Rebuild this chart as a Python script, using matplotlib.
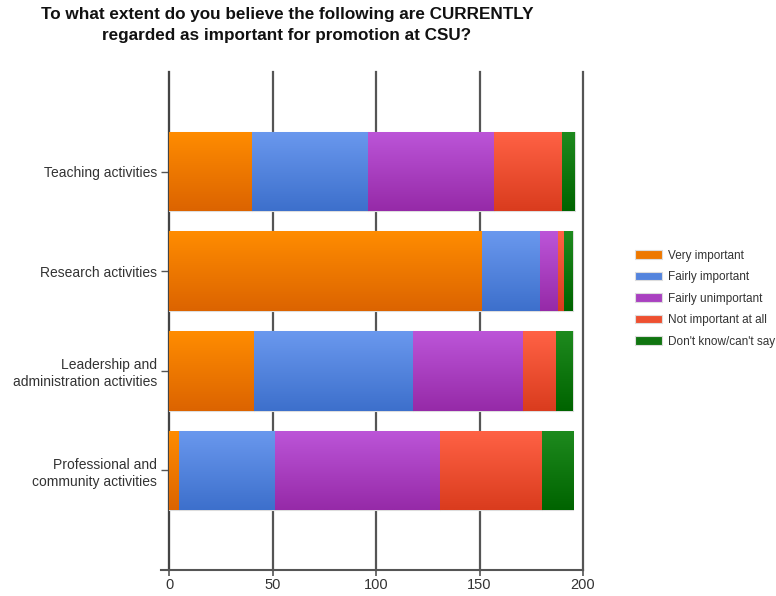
import numpy as np
import matplotlib
matplotlib.use("Agg")
import matplotlib.pyplot as plt
from matplotlib.colors import LinearSegmentedColormap

plt.rcParams['font.family'] = ['Liberation Sans', 'DejaVu Sans']

categories = ["Teaching activities", "Research activities",
              "Leadership and\nadministration activities",
              "Professional and\ncommunity activities"]
series_names = ["Very important", "Fairly important", "Fairly unimportant",
                "Not important at all", "Don't know/can't say"]
very_important = [40, 151, 41, 5]
fairly_important = [56, 28, 77, 46]
fairly_unimportant = [61, 9, 53, 80]
not_important = [33, 3, 16, 49]
dont_know = [6, 4, 8, 15]
series = [very_important, fairly_important, fairly_unimportant, not_important, dont_know]
x_ticks = [0, 50, 100, 150, 200]

top_colors = ["#FF8C00", "#6A98EE", "#BC55D8", "#FF6245", "#1E8A1E"]
bot_colors = ["#DC6400", "#3D70CC", "#962AA8", "#DA3C1E", "#006400"]
mid_colors = ["#EE7800", "#5484DD", "#A940C0", "#EE5030", "#107510"]

fig = plt.figure(figsize=(7.76, 5.96), dpi=100)
ax = fig.add_axes([169/776, 26/596, 414/776, 498/596])

y = np.arange(1, len(categories) + 1)
left = np.zeros(len(categories))
grad = np.linspace(0, 1, 64).reshape(-1, 1)
for i, vals in enumerate(series):
    vals = np.array(vals, dtype=float)
    bars = ax.barh(y, vals, left=left, height=0.8, color=mid_colors[i],
                   edgecolor="#DDDDDD", linewidth=0.8, label=series_names[i], zorder=3)
    cmap = LinearSegmentedColormap.from_list("g%d" % i, [top_colors[i], bot_colors[i]])
    for b in bars:
        x0, yb = b.get_x(), b.get_y()
        w, h = b.get_width(), b.get_height()
        im = ax.imshow(grad, cmap=cmap, aspect="auto", origin="upper",
                       extent=[x0, x0 + w, yb + h, yb], zorder=3.5, interpolation="bilinear")
        im.set_clip_path(b)
    left += vals

ax.set_xlim(0, 200)
ax.set_ylim(5, 0)
ax.set_xticks(x_ticks)
ax.set_xticklabels([str(t) for t in x_ticks], fontsize=10.5, color="#333333")
ax.set_yticks(y)
ax.set_yticklabels(categories, fontsize=10, color="#333333", multialignment="right",
                   linespacing=1.25)
ax.xaxis.grid(True, color="#555555", linewidth=1.6, zorder=0)
for gl in ax.get_xgridlines():
    gl.set_clip_on(False)
ax.set_axisbelow(True)
for s in ["top", "right"]:
    ax.spines[s].set_visible(False)
ax.spines["left"].set_color("#444444")
ax.spines["left"].set_linewidth(1.5)
ax.spines["bottom"].set_color("#555555")
ax.spines["bottom"].set_linewidth(1.5)
ax.spines["bottom"].set_bounds(-4, 200)
ax.tick_params(axis="x", length=4, width=1.2, color="#555555", pad=2)
ax.tick_params(axis="y", length=6, width=1.0, color="#555555", pad=2.5)

handles, labels = ax.get_legend_handles_labels()
leg = fig.legend(handles, labels, loc="upper left", bbox_to_anchor=(630/776, 1 - 245/596),
                 frameon=False, fontsize=8.5, handlelength=2.3, handleheight=0.7,
                 labelspacing=0.8, handletextpad=0.5, borderaxespad=0)
for t in leg.get_texts():
    t.set_color("#333333")

fig.text(287/776, 1 - 7/596,
         "To what extent do you believe the following are CURRENTLY\nregarded as important for promotion at CSU?",
         ha="center", va="top", fontsize=12.3, fontweight="bold", color="#111111", linespacing=1.5)

fig.savefig("out.png", dpi=100)
